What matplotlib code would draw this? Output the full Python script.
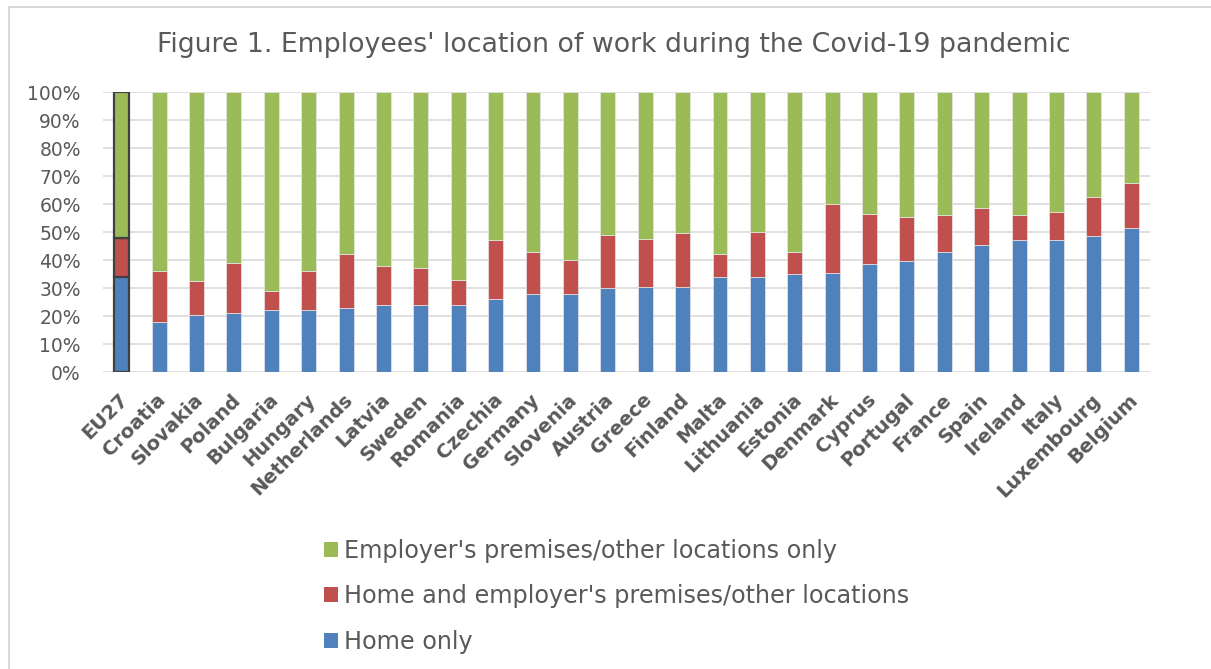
import matplotlib
matplotlib.use("Agg")
import matplotlib.pyplot as plt
from matplotlib.patches import Patch
from matplotlib.lines import Line2D
import matplotlib.transforms as mtransforms
import numpy as np

countries = ["EU27", "Croatia", "Slovakia", "Poland", "Bulgaria", "Hungary", "Netherlands",
             "Latvia", "Sweden", "Romania", "Czechia", "Germany", "Slovenia", "Austria",
             "Greece", "Finland", "Malta", "Lithuania", "Estonia", "Denmark", "Cyprus",
             "Portugal", "France", "Spain", "Ireland", "Italy", "Luxembourg", "Belgium"]
home_only = [34, 18, 20.5, 21, 22, 22, 23, 24, 24, 24, 26, 28, 28, 30, 30.5, 30.5, 34, 34,
             35, 35.5, 38.5, 39.5, 43, 45.5, 47, 47, 48.5, 51.5]
mixed = [14, 18, 12, 18, 7, 14, 19, 14, 13, 9, 21, 15, 12, 19, 17, 19, 8, 16,
         8, 24.5, 18, 16, 13, 13, 9, 10, 14, 16]
employer_only = [100 - h - m for h, m in zip(home_only, mixed)]

labels = ["Employer's premises/other locations only",
          "Home and employer's premises/other locations",
          "Home only"]
colors = ["#9BBB59", "#C0504D", "#4F81BD"]
title = "Figure 1. Employees' location of work during the Covid-19 pandemic"
yticks = list(range(0, 101, 10))

text_col = "#595959"
W, H = 1211, 669
fig = plt.figure(figsize=(W / 100, H / 100), dpi=100)
ax = fig.add_axes([103 / W, 1 - 372 / H, (1150 - 103) / W, (372 - 92) / H])

x = np.arange(len(countries))
edges = ["#404040" if i == 0 else "#E8E8E8" for i in range(len(countries))]
lws = [1.6 if i == 0 else 0.5 for i in range(len(countries))]
ax.bar(x, home_only, width=0.4, color=colors[2], edgecolor=edges, linewidth=lws, zorder=3)
ax.bar(x, mixed, bottom=home_only, width=0.4, color=colors[1], edgecolor=edges, linewidth=lws, zorder=3)
bottom2 = [h + m for h, m in zip(home_only, mixed)]
ax.bar(x, employer_only, bottom=bottom2, width=0.4, color=colors[0], edgecolor=edges, linewidth=lws, zorder=3)

ax.set_xlim(-0.5, len(countries) - 0.5)
ax.set_ylim(0, 100)
ax.set_yticks(yticks)
ax.set_yticklabels([f"{v}%" for v in yticks], fontsize=13.5, color=text_col)
ax.yaxis.grid(True, color="#D9D9D9", linewidth=1.2, zorder=0)
ax.set_axisbelow(True)
for s in ax.spines.values():
    s.set_visible(False)
ax.tick_params(axis="both", length=0)
ax.tick_params(axis="y", pad=16)
ax.set_xticks(x)
ax.set_xticklabels(countries, rotation=45, ha="right", rotation_mode="anchor",
                   fontsize=14, fontweight="bold", color=text_col)
ax.tick_params(axis="x", pad=13)
shift = mtransforms.ScaledTranslation(-3 / 100, 0, fig.dpi_scale_trans)
for lab in ax.get_xticklabels():
    lab.set_transform(lab.get_transform() + shift)

fig.text(614 / W, 1 - 45 / H, title, ha="center", va="center", fontsize=19.3, color=text_col)

handles = [Patch(facecolor=c, edgecolor="none") for c in colors]
leg = fig.legend(handles, labels, loc="upper left", bbox_to_anchor=(324 / W, 1 - 539 / H),
                 frameon=False, fontsize=17.2, handlelength=0.6, handleheight=0.6,
                 handletextpad=0.22, labelspacing=0.89, borderpad=0, borderaxespad=0)
for t in leg.get_texts():
    t.set_color(text_col)

# chart border (left and top)
fig.add_artist(Line2D([8.5 / W, 8.5 / W], [0, 1 - 7 / H], color="#D9D9D9", linewidth=1.5,
                      transform=fig.transFigure))
fig.add_artist(Line2D([8.5 / W, 1], [1 - 7 / H, 1 - 7 / H], color="#D9D9D9", linewidth=1.5,
                      transform=fig.transFigure))

fig.savefig("out.png", dpi=100, facecolor="white")
